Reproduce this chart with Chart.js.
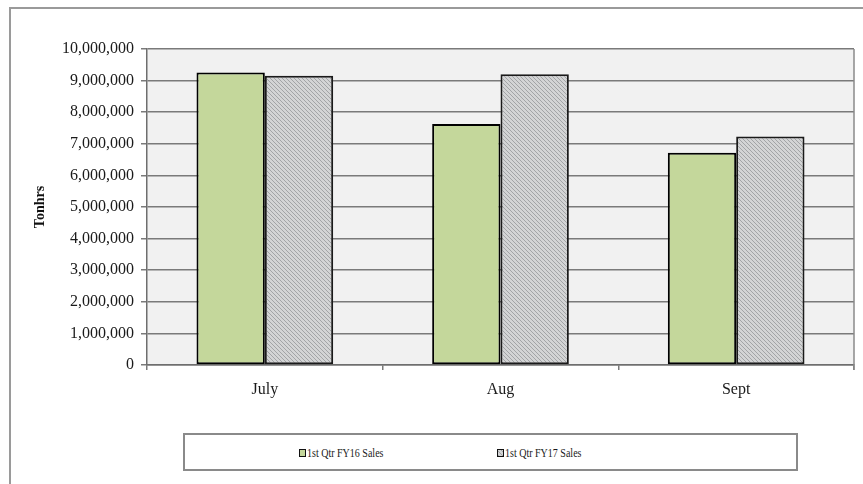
<!DOCTYPE html>
<html>
<head>
<meta charset="utf-8">
<script src="https://cdn.jsdelivr.net/npm/chart.js@4/dist/chart.umd.min.js"></script>
<style>
  html, body { margin: 0; padding: 0; background: #ffffff; }
  #wrap { position: relative; width: 863px; height: 484px; overflow: hidden; }
  #frame {
    position: absolute; left: 9px; top: 7px; width: 900px; height: 500px;
    border-top: 2px solid #9a9a9a; border-left: 2px solid #9a9a9a;
    box-sizing: border-box; pointer-events: none;
  }
  canvas { position: absolute; left: 0; top: 0; }
  #legend {
    position: absolute; left: 183px; top: 433px; width: 615px; height: 38px;
    border: 2px solid #8a8a8a; box-sizing: border-box; background: #fff;
  }
  .item {
    position: absolute; top: 10px; display: flex; align-items: center;
    font-family: "Liberation Serif", "Times New Roman", serif; font-size: 13px;
    color: #1a1a1a; white-space: nowrap;
  }
  .sw { width: 5px; height: 6px; border: 1.5px solid #111; margin-right: 1px; }
  .txt { display: inline-block; transform: scaleX(0.77); transform-origin: left center; }
</style>
</head>
<body>
<div id="wrap">
  <canvas id="c" width="863" height="484"></canvas>
  <div id="frame"></div>
  <div id="legend">
    <div class="item" id="li0" style="left:114px"><span class="sw" id="sw0"></span><span class="txt" id="lt0"></span></div>
    <div class="item" id="li1" style="left:312px"><span class="sw" id="sw1"></span><span class="txt" id="lt1"></span></div>
  </div>
</div>
<script>
// Monthly tonnage, first quarter of each fiscal year
const months = ["July", "Aug", "Sept"];
const seriesNames = ["1st Qtr FY16 Sales", "1st Qtr FY17 Sales"];
const fy16Sales = [9260000, 7630000, 6720000];
const fy17Sales = [9150000, 9200000, 7230000];
const yTicks = [0, 1000000, 2000000, 3000000, 4000000, 5000000, 6000000, 7000000, 8000000, 9000000, 10000000];

const GREEN = "#c4d79b";

// fine diagonal hatch for the FY17 bars
function makeHatch() {
  const t = document.createElement("canvas");
  t.width = 4; t.height = 4;
  const g = t.getContext("2d");
  g.fillStyle = "#d3d4d5";
  g.fillRect(0, 0, 4, 4);
  g.strokeStyle = "#a2a4a6";
  g.lineWidth = 1;
  g.beginPath();
  g.moveTo(-1, -1); g.lineTo(5, 5);
  g.moveTo(-3, 1); g.lineTo(1, 5);
  g.moveTo(3, -1); g.lineTo(5, 1);
  g.stroke();
  return t;
}
const hatchTile = makeHatch();
const ctx = document.getElementById("c").getContext("2d");
const hatch = ctx.createPattern(hatchTile, "repeat");

// legend (HTML)
document.getElementById("lt0").textContent = seriesNames[0];
document.getElementById("lt1").textContent = seriesNames[1];
document.getElementById("sw0").style.background = GREEN;
document.getElementById("sw1").style.background =
  "repeating-linear-gradient(45deg, #a2a4a6 0 1px, #d3d4d5 1px 3px)";

const serif = "'Liberation Serif', 'Times New Roman', serif";

const plotBox = {
  id: "plotBox",
  beforeDraw(chart) {
    const a = chart.chartArea, c = chart.ctx;
    c.save();
    c.fillStyle = "#f1f1f1";
    c.fillRect(a.left, a.top, a.right - a.left, a.bottom - a.top);
    c.restore();
  },
  afterDraw(chart) {
    const a = chart.chartArea, c = chart.ctx;
    c.save();
    c.strokeStyle = "#8a8a8a";
    c.lineWidth = 1.5;
    c.beginPath();
    c.moveTo(a.right, a.top);
    c.lineTo(a.right, a.bottom + 5);
    c.stroke();
    c.restore();
  }
};

new Chart(ctx, {
  type: "bar",
  data: {
    labels: months,
    datasets: [
      { label: seriesNames[0], data: fy16Sales, backgroundColor: GREEN,
        borderColor: "#000", borderWidth: 2, borderSkipped: false },
      { label: seriesNames[1], data: fy17Sales, backgroundColor: hatch,
        borderColor: "#1a1a1a", borderWidth: 2, borderSkipped: false }
    ]
  },
  plugins: [plotBox],
  options: {
    responsive: false,
    animation: false,
    devicePixelRatio: 1,
    layout: { padding: { left: 10, right: 9, top: 49, bottom: 84 } },
    datasets: { bar: { categoryPercentage: 0.58, barPercentage: 1.0 } },
    plugins: { legend: { display: false }, tooltip: { enabled: false } },
    scales: {
      x: {
        offset: true,
        grid: { offset: true, drawOnChartArea: false, drawTicks: true, tickLength: 5, color: "#7a7a7a", lineWidth: 1.5 },
        border: { display: true, color: "#6e6e6e", width: 1.5 },
        ticks: { color: "#1a1a1a", font: { family: serif, size: 16 }, padding: 10 },
        afterFit(s) { s.height = 35; }
      },
      y: {
        min: 0, max: 10000000,
        afterBuildTicks(s) { s.ticks = yTicks.map(v => ({ value: v })); },
        grid: { color: "#7a7a7a", lineWidth: 1.5, tickLength: 6 },
        border: { display: true, color: "#6e6e6e", width: 1.5 },
        ticks: {
          color: "#1a1a1a", font: { family: serif, size: 16 }, padding: 7,
          callback: v => Number(v).toLocaleString("en-US")
        },
        title: {
          display: true, text: "Tonhrs", color: "#111",
          font: { family: serif, size: 14, weight: "bold" },
          padding: { top: 22, bottom: 0 }
        },
        afterFit(s) { s.width = 137; }
      }
    }
  }
});
</script>
</body>
</html>
